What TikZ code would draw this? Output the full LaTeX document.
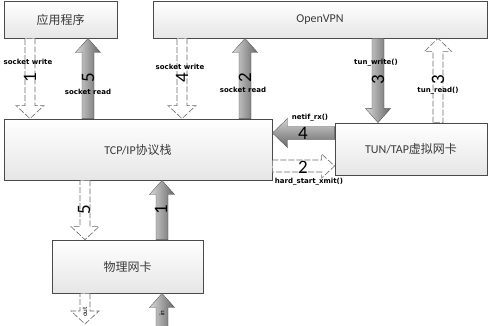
\documentclass[tikz,border=0pt]{standalone}
\usepackage{fontspec}
\setmainfont{Carlito}
\newfontfamily\cjk{Noto Sans CJK SC}
\newfontfamily\lblfont{DejaVu Sans}
\usetikzlibrary{calc}

\definecolor{boxline}{HTML}{4A4A4A}
\definecolor{boxfill}{HTML}{E6E6E6}
\definecolor{boxtext}{HTML}{3A3A3A}
\definecolor{dashline}{HTML}{6A6A6A}

\tikzset{
  % block arrow drawn along the segment start -> target
  % #1 half shaft width, #2 half head width, #3 head length
  blk/.style n args={3}{to path={
    let \p1=(\tikztostart), \p2=(\tikztotarget),
        \n1={veclen(\x2-\x1,\y2-\y1)}, \n2={atan2(\y2-\y1,\x2-\x1)} in
    ([shift={(\p1)},rotate=\n2]0,#1)
    -- ([shift={(\p1)},rotate=\n2]\n1-#3,#1)
    -- ([shift={(\p1)},rotate=\n2]\n1-#3,#2)
    -- (\p2)
    -- ([shift={(\p1)},rotate=\n2]\n1-#3,-#2)
    -- ([shift={(\p1)},rotate=\n2]\n1-#3,-#1)
    -- ([shift={(\p1)},rotate=\n2]0,-#1) -- cycle}},
  box/.style={draw=boxline, line width=0.8pt, rectangle, inner sep=0pt,
    top color=white, bottom color=boxfill, text=boxtext,
    font=\fontsize{12}{14}\selectfont},
  hollow/.style={draw=dashline, line width=0.6pt, dash pattern=on 6pt off 2pt,
    fill=white},
  grayv/.style={draw=gray!60!black, line width=0.3pt,
    left color=gray!30, right color=gray!80!black},
  grayh/.style={draw=gray!60!black, line width=0.3pt,
    top color=gray!35, bottom color=gray!80!black},
  lab/.style={font=\lblfont\bfseries\fontsize{7}{8}\selectfont, text=black, inner sep=0pt},
  num/.style={font=\fontsize{19}{19}\selectfont, text=black, inner sep=0pt},
  numv/.style={num, rotate=90},
  tiny/.style={font=\fontsize{7}{7}\selectfont, text=black, inner sep=0pt, rotate=90},
}

\begin{document}
\begin{tikzpicture}[x=1pt,y=1pt]
\useasboundingbox[fill=white] (0,0) rectangle (489,325);

% layers
\node[box, minimum width=113, minimum height=37] (app)  at (60.5,305.5) {{\cjk 应用程序}};
\node[box, minimum width=334, minimum height=37] (ovpn) at (320,305.5) {OpenVPN};
\node[box, minimum width=268, minimum height=61] (tcp)  at (138,175.5) {TCP/IP{\cjk 协议栈}};
\node[box, minimum width=152, minimum height=52] (tun)  at (411,176) {TUN/TAP{\cjk 虚拟网卡}};
\node[box, minimum width=151, minimum height=53] (phy)  at (127.5,58.5) {{\cjk 物理网卡}};

\coordinate (wireout) at (85,1);
\coordinate (wirein)  at (162,-2);

% application <-> stack
\draw[hollow] (30,0 |- app.south) to[blk={5}{14}{13}] (30,0 |- tcp.north);
\draw[grayv]  (88,0 |- tcp.north) to[blk={6}{12.5}{14}] (88,0 |- app.south);
% OpenVPN <-> stack
\draw[hollow] (182,0 |- ovpn.south) to[blk={5}{14}{13}] (182,0 |- tcp.north);
\draw[grayv]  (245,0 |- tcp.north) to[blk={6}{12.5}{14}] (245,0 |- ovpn.south);
% OpenVPN <-> TUN/TAP
\draw[grayv]  (378,0 |- ovpn.south) to[blk={6}{12.5}{14}] (378,0 |- tun.north);
\draw[hollow] (438,0 |- tun.north) to[blk={5}{13.5}{13}] (438,0 |- ovpn.south);
% TUN/TAP <-> stack
\draw[grayh]  (tun.west |- 0,192) to[blk={6.5}{14.5}{15}] (tcp.east |- 0,192);
\draw[hollow] (tcp.east |- 0,159) to[blk={6}{12}{13}] (tun.west |- 0,159);
% stack <-> physical NIC
\draw[hollow] (85,0 |- tcp.south) to[blk={5}{14}{13}] (85,0 |- phy.north);
\draw[grayv]  (162,0 |- phy.north) to[blk={6}{12.5}{14}] (162,0 |- tcp.south);
% physical NIC <-> wire
\draw[hollow] (85,0 |- phy.south) to[blk={5}{14}{13}] (wireout);
\draw[grayv]  (wirein) to[blk={6}{12.5}{14}] (162,0 |- phy.south);

% labels
\node[lab] (sw1) at (28,263) {socket write};
\node[numv] (k1) at (30,247) {1};
\node[numv] (k5) at (88,247) {5};
\node[lab] (sr1) at (88,233) {socket read};
\node[lab] (sw2) at (180,258) {socket write};
\node[numv] (k4) at (182,247) {4};
\node[numv] (k2) at (245,247) {2};
\node[lab] (sr2) at (243,235) {socket read};
\node[lab] (tw) at (376,262) {tun\_write()};
\node[numv] (k3a) at (378,245) {3};
\node[numv] (k3b) at (438,245) {3};
\node[lab] (tr) at (438,234) {tun\_read()};
\node[lab] (nr) at (310,207) {netif\_rx()};
\node[num] (h4) at (303,192) {4};
\node[num] (h2) at (303,158) {2};
\node[lab] (hx) at (309,143) {hard\_start\_xmit()};
\node[numv] (d5) at (84,115) {5};
\node[numv] (d1) at (161,115) {1};
\node[tiny] (lo) at (85,13) {out};
\node[tiny] (li) at (162,12) {in};
\end{tikzpicture}
\end{document}
